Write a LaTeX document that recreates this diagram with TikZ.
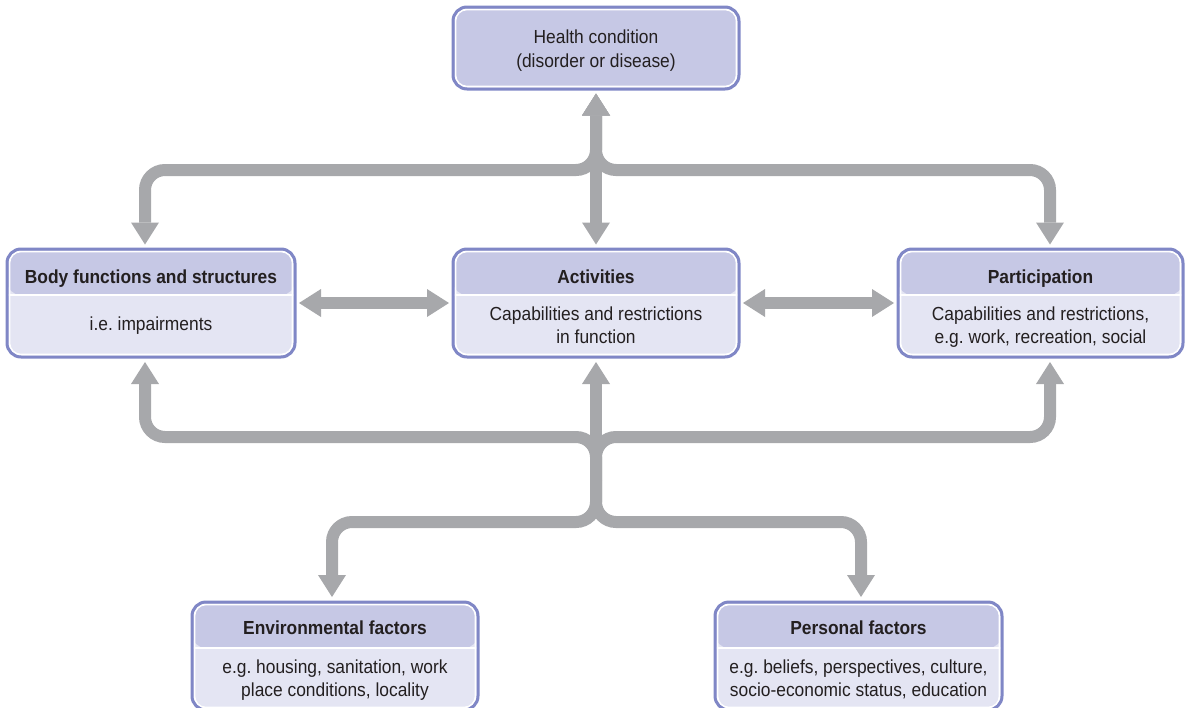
\documentclass[tikz,border=0pt]{standalone}
\usepackage{fontspec}
\setmainfont{Liberation Sans}[FakeStretch=0.92]
\usetikzlibrary{arrows.meta}
\frenchspacing

\definecolor{boxline}{RGB}{128,135,198}
\definecolor{headfill}{RGB}{198,200,229}
\definecolor{bodyfill}{RGB}{228,229,243}
\definecolor{linkgray}{RGB}{167,168,171}
\definecolor{ink}{RGB}{35,31,32}

\tikzset{
  fat/.tip={Triangle[width=28pt,length=22pt,line width=0pt]},
  % rounded box with a thin white rim inside the blue border
  basecard/.style={rectangle, rounded corners=14pt, draw=boxline, line width=3pt,
    inner sep=0pt, minimum width=287pt, minimum height=108pt},
  plaincard/.style={basecard, fill=headfill, minimum height=82pt,
    path picture={
      \draw[white, line width=1.8pt, rounded corners=11.5pt]
        ([shift={(2.4pt,2.4pt)}]path picture bounding box.south west) rectangle
        ([shift={(-2.4pt,-2.4pt)}]path picture bounding box.north east);
    }},
  % two-band box: darker title band over a light body band
  card/.style={basecard, fill=bodyfill,
    path picture={
      \fill[headfill] (path picture bounding box.north west) rectangle
        ([yshift=-46pt]path picture bounding box.north east);
      \draw[white, line width=1.5pt] ([yshift=-46pt]path picture bounding box.north west) --
        ([yshift=-46pt]path picture bounding box.north east);
      \draw[white, line width=1.8pt, rounded corners=11.5pt]
        ([shift={(2.4pt,2.4pt)}]path picture bounding box.south west) rectangle
        ([shift={(-2.4pt,-2.4pt)}]path picture bounding box.north east);
    }},
  lbl/.style={anchor=base, inner sep=0pt, text=ink, font=\fontsize{18.9pt}{22pt}\selectfont},
  hdr/.style={lbl, font=\fontsize{18.9pt}{22pt}\selectfont\bfseries},
  link/.style={draw=linkgray, line width=12pt, rounded corners=20pt}
}

\begin{document}
\begin{tikzpicture}[x=1pt,y=-1pt]
\useasboundingbox (0,0) rectangle (1186,707);

% boxes
\node[plaincard, minimum width=286pt] (health) at (596,48) {};
\node[card, minimum width=288pt] (body) at (151,303) {};
\node[card, minimum width=286pt] (act) at (596,303) {};
\node[card, minimum width=285pt] (part) at (1040.5,303) {};
\node[card, minimum width=286pt] (env) at (335,656) {};
\node[card, minimum width=287pt] (pers) at (858.5,656) {};

% texts
\node[lbl] (health-a) at (596,43) {Health condition};
\node[lbl] (health-b) at (596,67) {(disorder or disease)};

\node[hdr] (body-h) at (151,283) {Body functions and structures};
\node[lbl] (body-a) at (151,330) {i.e. impairments};

\node[hdr] (act-h) at (596,283) {Activities};
\node[lbl] (act-a) at (596,320) {Capabilities and restrictions};
\node[lbl] (act-b) at (596,343) {in function};

\node[hdr] (part-h) at (1040.5,283) {Participation};
\node[lbl] (part-a) at (1040.5,320) {Capabilities and restrictions,};
\node[lbl] (part-b) at (1040.5,343) {e.g. work, recreation, social};

\node[hdr] (env-h) at (335,634) {Environmental factors};
\node[lbl] (env-a) at (335,673) {e.g. housing, sanitation, work};
\node[lbl] (env-b) at (335,696) {place conditions, locality};

\node[hdr] (pers-h) at (858.5,634) {Personal factors};
\node[lbl] (pers-a) at (858.5,673) {e.g. beliefs, perspectives, culture,};
\node[lbl] (pers-b) at (858.5,696) {socio-economic status, education};

% branch points of the connectors
\coordinate (tl) at (145,170);
\coordinate (tr) at (1050,170);
\coordinate (ml) at (145,437);
\coordinate (mr) at (1050,437);
\coordinate (hub) at (596,480);
\coordinate (el) at (332,522);
\coordinate (pr) at (861,522);

% upper tree: health condition to the three components
\draw[link, fat-fat, shorten <=3pt, shorten >=3pt] (health.south) -- (act.north);
\draw[link, fat-fat, shorten <=3pt, shorten >=3pt] (health.south) |- (tl) -- (tl |- body.north);
\draw[link, fat-fat, shorten <=3pt, shorten >=3pt] (health.south) |- (tr) -- (tr |- part.north);

% side links
\draw[link, fat-fat, shorten <=2.5pt, shorten >=2.5pt] (body.east) -- (act.west);
\draw[link, fat-fat, shorten <=2.5pt, shorten >=2.5pt] (act.east) -- (part.west);

% lower tree: contextual factors
\draw[link, -fat, shorten >=3.5pt] (hub) -- (act.south);
\draw[link, -fat, shorten >=3.5pt] (hub) |- (ml) -- (ml |- body.south);
\draw[link, -fat, shorten >=3.5pt] (hub) |- (mr) -- (mr |- part.south);
\draw[link, -fat, shorten >=3.5pt] (hub) |- (el) -- (el |- env.north);
\draw[link, -fat, shorten >=3.5pt] (hub) |- (pr) -- (pr |- pers.north);
\end{tikzpicture}
\end{document}
